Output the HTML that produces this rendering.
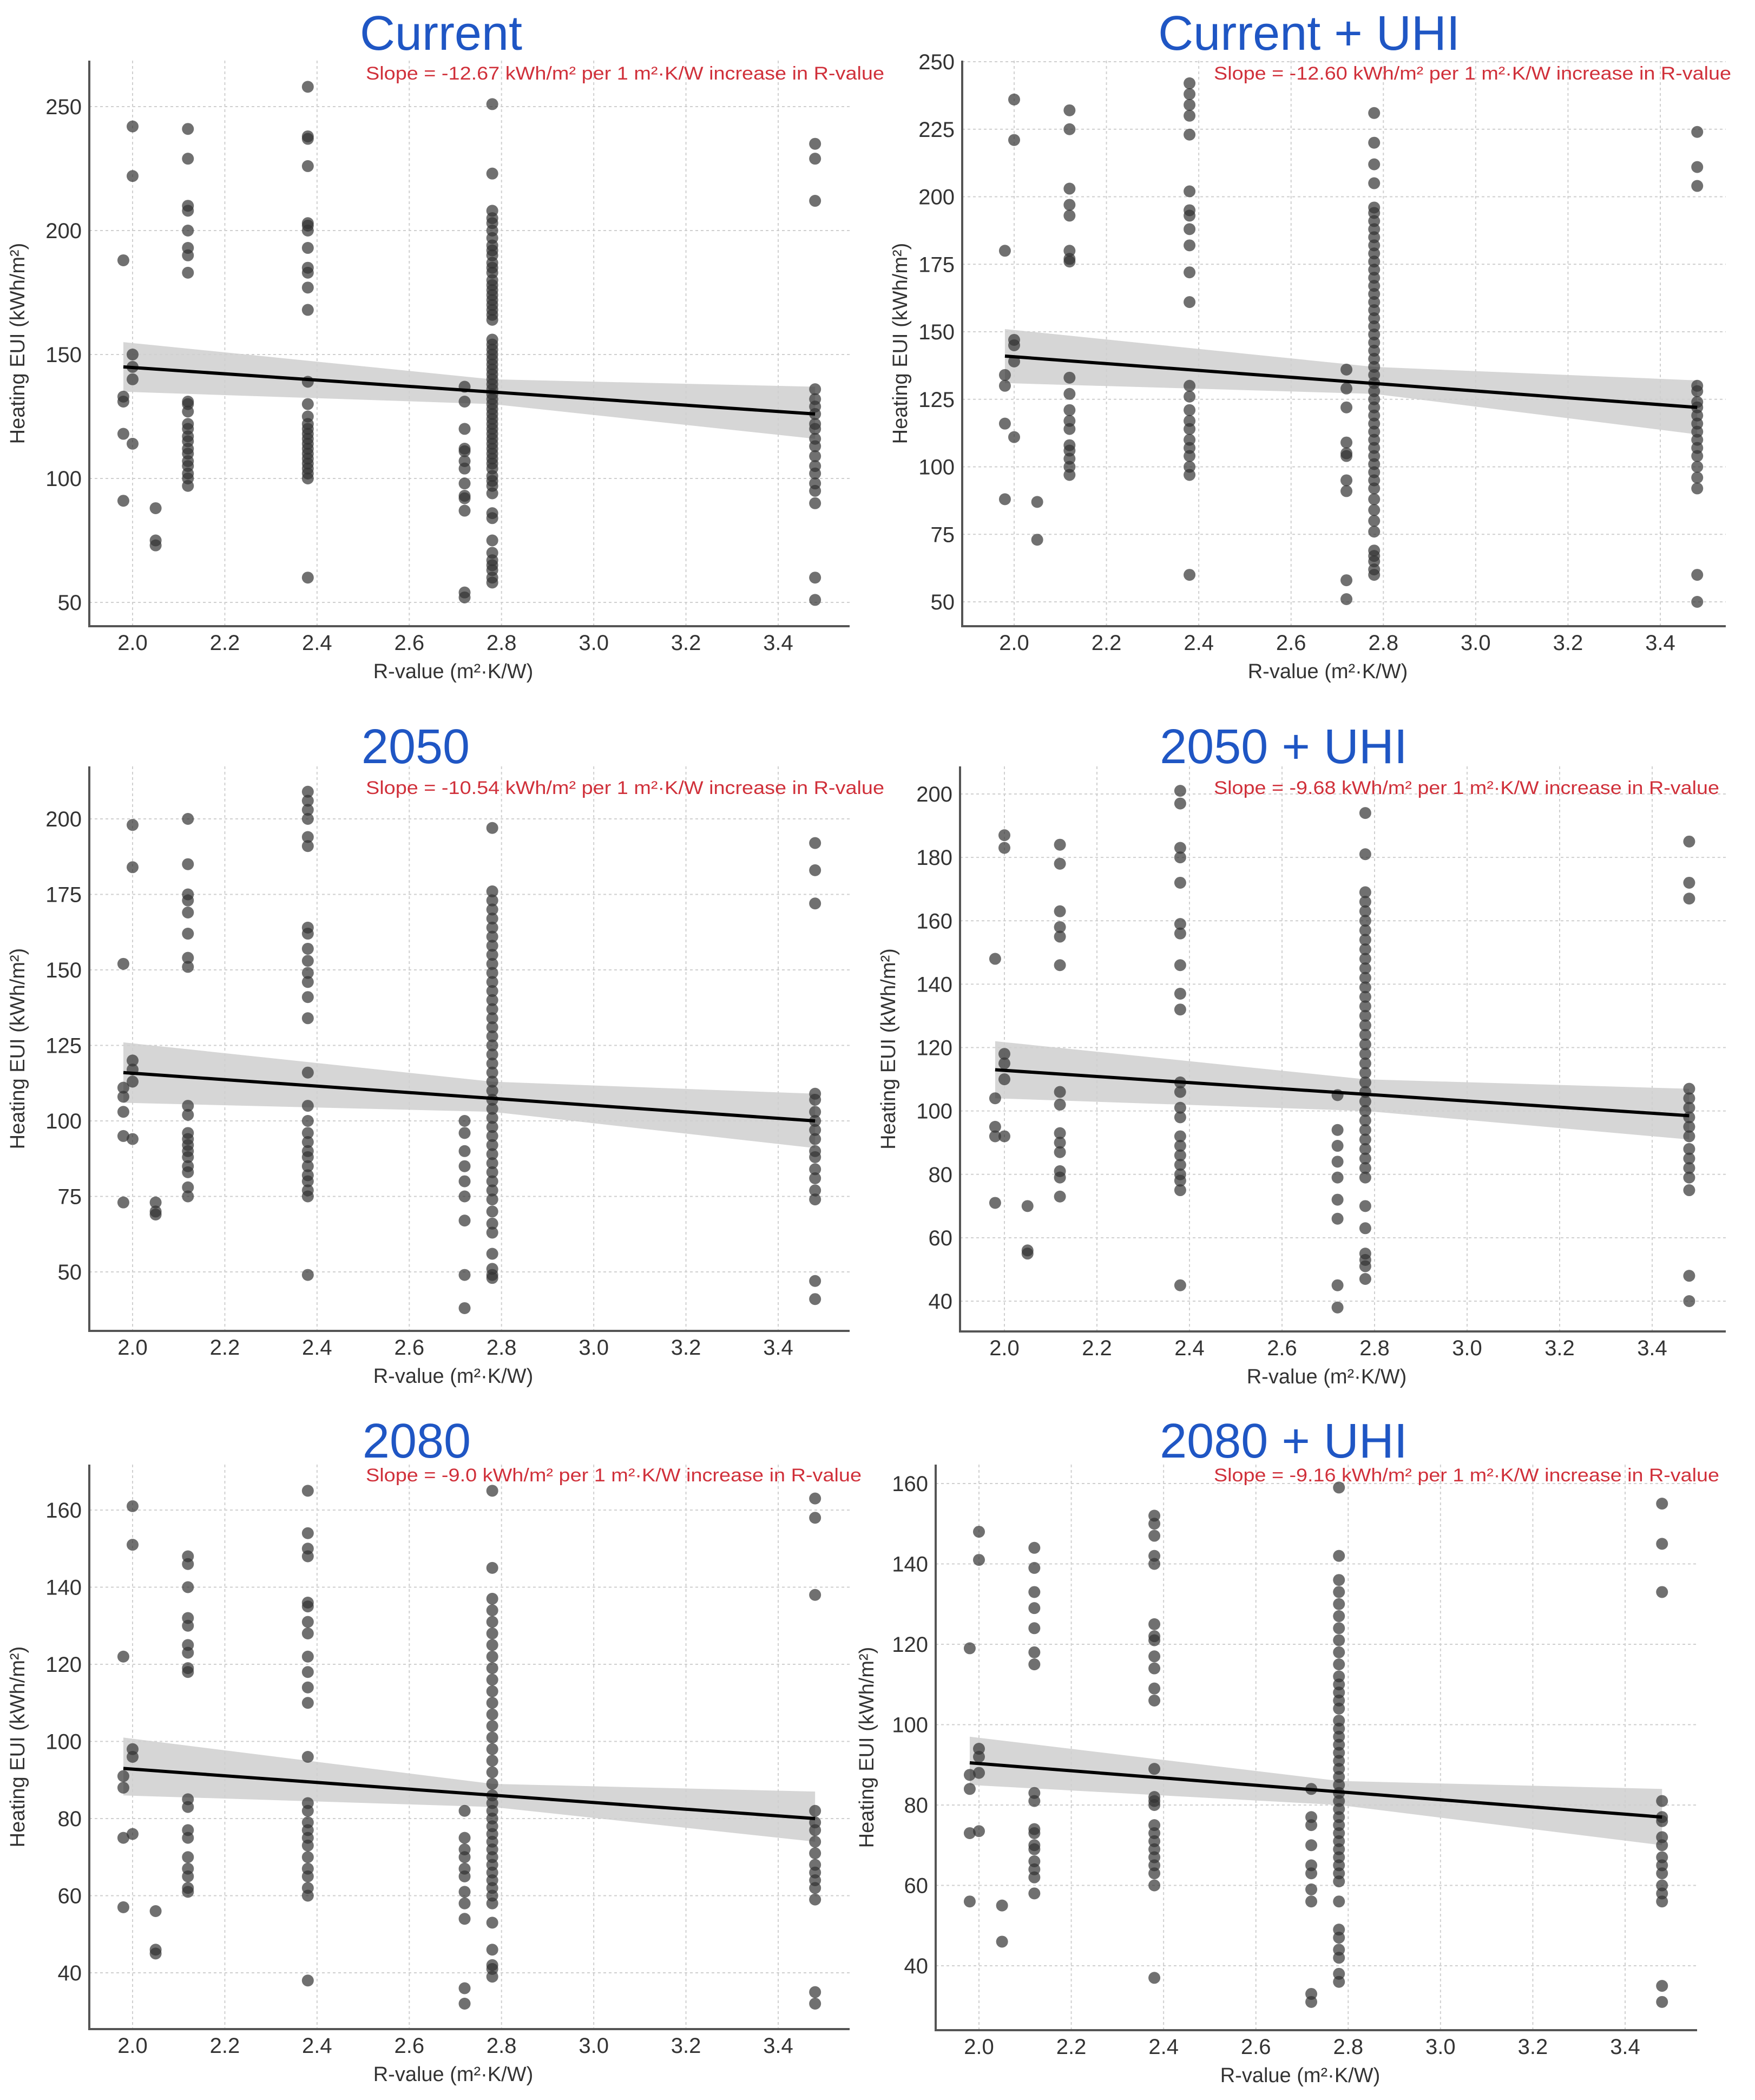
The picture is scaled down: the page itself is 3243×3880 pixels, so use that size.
<!DOCTYPE html>
<html><head><meta charset="utf-8">
<style>
html,body{margin:0;padding:0;background:#fff;}
svg{display:block;font-family:"Liberation Sans",Arial,sans-serif;}
</style></head>
<body>
<svg id="chart" width="3243" height="3880" viewBox="0 0 3243 3880" xmlns="http://www.w3.org/2000/svg"></svg>
<script>
const xTicks = [2.0, 2.2, 2.4, 2.6, 2.8, 3.0, 3.2, 3.4];
const titles = ["Current", "Current + UHI", "2050", "2050 + UHI", "2080", "2080 + UHI"];
const slopes = ["-12.67", "-12.60", "-10.54", "-9.68", "-9.0", "-9.16"];
const yTicks1 = [50, 100, 150, 200, 250];
const yTicks2 = [50, 75, 100, 125, 150, 175, 200, 225, 250];
const yTicks3 = [50, 75, 100, 125, 150, 175, 200];
const yTicks4 = [40, 60, 80, 100, 120, 140, 160, 180, 200];
const yTicks5 = [40, 60, 80, 100, 120, 140, 160];
const yTicks6 = [40, 60, 80, 100, 120, 140, 160];
const groupX = [1.98, 2.0, 2.05, 2.12, 2.38, 2.72, 2.78, 3.48];
const fitY1 = [145, 126], ciLo1 = [135, 130, 116], ciHi1 = [155, 140, 137];
const fitY2 = [141, 122], ciLo2 = [131, 127, 112], ciHi2 = [151, 137, 132];
const fitY3 = [116, 100], ciLo3 = [106, 103, 91], ciHi3 = [126, 113, 109];
const fitY4 = [113, 98.5], ciLo4 = [104, 100, 91], ciHi4 = [122, 110, 107];
const fitY5 = [93, 80], ciLo5 = [86, 83, 74], ciHi5 = [101, 89, 87];
const fitY6 = [90.5, 77], ciLo6 = [85, 80, 70], ciHi6 = [97, 86, 84];
const pts1 = [
 [188,133,131,118,91],
 [242,222,150,145,140,114],
 [88,75,73],
 [241,229,210,208,200,193,190,183,131,130,127,122,120,117,115,112,110,107,105,102,100,97],
 [258,238,237,226,203,202,200,193,185,183,177,168,139,130,125,122,120,118,116,114,112,110,108,106,104,102,100,60],
 [137,131,120,112,111,107,104,98,93,92,87,54,52],
 [251,223,208,205,203,200,197,194,192,190,187,185,183,180,178,176,174,172,170,168,166,164,156,154,152,150,148,146,144,142,140,138,136,134,132,130,128,126,124,122,120,118,116,114,112,110,108,106,104,101,99,97,94,86,84,75,70,67,65,63,60,58],
 [235,229,212,136,132,129,126,122,120,116,113,109,105,102,98,95,90,60,51]
];
const pts2 = [
 [180,134,130,116,88],
 [236,221,147,145,139,111],
 [87,73],
 [232,225,203,197,193,180,177,176,133,127,121,117,114,108,106,103,100,97],
 [242,238,234,230,223,202,195,193,188,182,172,161,130,126,121,117,114,110,107,104,100,97,60],
 [136,129,122,109,105,104,95,91,58,51],
 [231,220,212,205,196,194,191,188,185,182,179,176,173,170,167,164,161,158,155,152,149,146,143,140,137,134,131,128,125,122,119,116,113,110,107,104,101,98,95,92,88,84,80,76,69,67,65,62,60],
 [224,211,204,130,128,124,122,119,116,113,110,107,104,100,96,92,60,50]
];
const pts3 = [
 [152,111,108,103,95,73],
 [198,184,120,117,113,94],
 [73,70,69],
 [200,185,175,173,169,162,154,151,105,102,96,94,92,90,88,85,83,78,75],
 [209,206,203,200,194,191,164,162,157,153,149,146,141,134,116,105,100,96,93,90,88,85,82,80,77,75,49],
 [100,96,90,85,80,75,67,49,38],
 [197,176,173,170,167,164,161,158,155,152,149,146,143,140,137,134,131,128,125,122,119,116,113,110,107,104,101,98,95,92,89,86,83,80,77,74,70,66,63,56,51,49,48],
 [192,183,172,109,107,103,100,97,94,90,88,84,81,77,74,47,41]
];
const pts4 = [
 [148,104,95,92,71],
 [187,183,118,115,110,92],
 [70,56,55],
 [184,178,163,158,155,146,106,102,93,90,87,81,79,73],
 [201,197,183,180,172,159,156,146,137,132,109,106,101,98,92,89,86,83,80,78,75,45],
 [105,94,89,84,79,72,66,45,38],
 [194,181,169,166,163,160,157,154,151,148,145,142,139,136,133,130,127,124,121,118,115,112,109,106,103,100,97,94,91,88,85,82,79,70,63,55,53,51,47],
 [185,172,167,107,104,101,98,95,92,88,85,82,79,75,48,40]
];
const pts5 = [
 [122,91,88,75,57],
 [161,151,98,96,76],
 [56,46,45],
 [148,146,140,132,130,125,123,119,118,85,83,77,75,70,67,65,62,61],
 [165,154,150,148,136,135,131,128,122,118,114,110,96,84,82,79,77,75,73,70,67,65,62,60,38],
 [82,75,72,70,67,65,61,58,54,36,32],
 [165,145,137,134,131,128,125,122,119,116,113,110,107,104,101,98,95,92,89,86,84,82,80,78,76,74,72,70,68,66,64,62,60,58,53,46,42,41,39],
 [163,158,138,82,79,77,74,71,68,66,64,62,59,35,32]
];
const pts6 = [
 [119,87.5,84,73,56],
 [148,141,94,92,88,73.5],
 [55,46],
 [144,139,133,129,124,118,115,83,81,74,73,70,69,66,64,62,58],
 [152,150,147,142,140,125,122,121,117,114,109,106,89,82,81,80,75,73,71,69,67,65,63,60,37],
 [84,77,75,70,65,63,59,56,33,31],
 [159,142,136,133,130,127,124,121,118,115,112,110,108,106,104,101,99,97,95,93,91,89,87,85,83,81,79,77,75,73,71,69,67,65,63,61,56,49,47,44,42,38,36],
 [155,145,133,81,77,76,72,70,67,65,63,60,58,56,35,31]
];

const panels = [
 {t:0, left:165, right:1570, top:112, bottom:1157, x0:245, x1:1438, yA:50, pA:1113, yB:250, pB:197, ticks:yTicks1, pts:pts1, fit:fitY1, lo:ciLo1, hi:ciHi1, tx:815, ty:92, sx:676, sw:958, sy:147, ylx:45},
 {t:1, left:1778, right:3189, top:112, bottom:1157, x0:1874, x1:3068, yA:50, pA:1112, yB:250, pB:114, ticks:yTicks2, pts:pts2, fit:fitY2, lo:ciLo2, hi:ciHi2, tx:2419, ty:92, sx:2243, sw:956, sy:147, ylx:1676},
 {t:2, left:165, right:1570, top:1416, bottom:2459, x0:245, x1:1438, yA:50, pA:2350, yB:200, pB:1513, ticks:yTicks3, pts:pts3, fit:fitY3, lo:ciLo3, hi:ciHi3, tx:768, ty:1410, sx:676, sw:958, sy:1467, ylx:45},
 {t:3, left:1774, right:3189, top:1416, bottom:2460, x0:1856, x1:3053, yA:40, pA:2404, yB:200, pB:1467, ticks:yTicks4, pts:pts4, fit:fitY4, lo:ciLo4, hi:ciHi4, tx:2372, ty:1410, sx:2243, sw:934, sy:1467, ylx:1654},
 {t:4, left:165, right:1570, top:2706, bottom:3749, x0:245, x1:1438, yA:40, pA:3645, yB:160, pB:2790, ticks:yTicks5, pts:pts5, fit:fitY5, lo:ciLo5, hi:ciHi5, tx:770, ty:2693, sx:676, sw:916, sy:2737, ylx:45},
 {t:5, left:1729, right:3136, top:2706, bottom:3751, x0:1809, x1:3003, yA:40, pA:3632, yB:160, pB:2741, ticks:yTicks6, pts:pts6, fit:fitY6, lo:ciLo6, hi:ciHi6, tx:2372, ty:2693, sx:2243, sw:934, sy:2737, ylx:1614}
];

const NS = "http://www.w3.org/2000/svg";
const svg = document.getElementById("chart");
function mk(tag, attrs, parent) {
  const e = document.createElementNS(NS, tag);
  for (const k in attrs) e.setAttribute(k, attrs[k]);
  parent.appendChild(e);
  return e;
}

panels.forEach((p, i) => {
  const xs = v => p.x0 + (v - 2.0) / 1.4 * (p.x1 - p.x0);
  const ys = v => p.pA + (v - p.yA) / (p.yB - p.yA) * (p.pB - p.pA);
  const g = mk("g", {}, svg);
  
  

  xTicks.forEach(v => {
    const l = mk("line", {x1: xs(v), x2: xs(v), y1: p.top, y2: p.bottom, stroke: "#cfcfcf", "stroke-width": 2, "stroke-dasharray": "5,5"}, g);
    
    
  });
  p.ticks.forEach(v => {
    const l = mk("line", {x1: p.left, x2: p.right, y1: ys(v), y2: ys(v), stroke: "#cfcfcf", "stroke-width": 2, "stroke-dasharray": "5,5"}, g);
    
    
  });

  const bx = [groupX[0], 2.78, groupX[7]];
  let d = "M" + xs(bx[0]) + "," + ys(p.hi[0]);
  for (let k = 1; k < 3; k++) d += " L" + xs(bx[k]) + "," + ys(p.hi[k]);
  for (let k = 2; k >= 0; k--) d += " L" + xs(bx[k]) + "," + ys(p.lo[k]);
  d += " Z";
  const band = mk("path", {d: d, fill: "#cfcfcf", opacity: 0.85}, g);
  
  

  p.pts.forEach((arr, gi) => {
    arr.forEach(v => {
      const c = mk("circle", {cx: xs(groupX[gi]), cy: ys(v), r: 11, fill: "#333", "fill-opacity": 0.7}, g);
      
      
    });
  });

  const fl = mk("line", {x1: xs(groupX[0]), y1: ys(p.fit[0]), x2: xs(groupX[7]), y2: ys(p.fit[1]), stroke: "#000", "stroke-width": 6}, g);
  
  

  const ax = mk("path", {d: "M" + p.left + "," + p.top + " L" + p.left + "," + p.bottom + " L" + p.right + "," + p.bottom, fill: "none", stroke: "#555", "stroke-width": 4}, g);
  
  

  xTicks.forEach(v => {
    const t = mk("text", {x: xs(v), y: p.bottom + 44, "text-anchor": "middle", "font-size": 40, fill: "#333"}, g);
    t.textContent = v.toFixed(1);
    
    
  });
  p.ticks.forEach(v => {
    const t = mk("text", {x: p.left - 14, y: ys(v) + 14, "text-anchor": "end", "font-size": 40, fill: "#333"}, g);
    t.textContent = v;
    
    
  });

  const xl = mk("text", {x: (p.left + p.right) / 2 - 30, y: p.bottom + 96, "text-anchor": "middle", "font-size": 38, fill: "#333"}, g);
  xl.textContent = "R-value (m²·K/W)";
  
  

  const cy = (p.top + p.bottom) / 2;
  const yl = mk("text", {x: p.ylx, y: cy, "text-anchor": "middle", "font-size": 38, fill: "#333", transform: "rotate(-90 " + p.ylx + " " + cy + ")"}, g);
  yl.textContent = "Heating EUI (kWh/m²)";
  
  

  const ti = mk("text", {x: p.tx, y: p.ty, "text-anchor": "middle", "font-size": 90, fill: "#1f56c4"}, g);
  ti.textContent = titles[p.t];
  
  

  const st = mk("text", {x: p.sx, y: p.sy, "font-size": 34, fill: "#d0303a", textLength: p.sw, lengthAdjust: "spacingAndGlyphs"}, g);
  st.textContent = "Slope = " + slopes[p.t] + " kWh/m² per 1 m²·K/W increase in R-value";
  
  
});
</script>
</body></html>
